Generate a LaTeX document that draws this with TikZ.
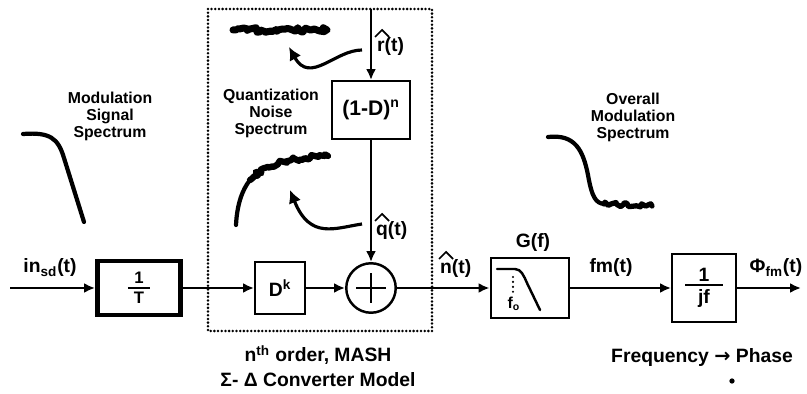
\documentclass[tikz,border=0pt]{standalone}
\usepackage{fontspec}
\setmainfont{Liberation Sans}
\newfontfamily\arrowfont{DejaVu Sans}
\usetikzlibrary{positioning,arrows.meta,decorations.pathmorphing,calc}
\tikzset{
  blockbox/.style={draw, line width=1.4pt, fill=white, inner sep=1pt,
    font=\fontsize{11}{13}\selectfont\bfseries},
  sigarrow/.style={-{Latex[length=2.2mm,width=2mm]}, line width=1.4pt},
  siglabel/.style={font=\fontsize{11}{13}\selectfont\bfseries, inner sep=1pt},
  hatline/.style={line width=1pt, line join=miter},
  speclabel/.style={font=\fontsize{9}{9.7}\selectfont\bfseries, align=center, inner sep=0pt},
  speccurve/.style={line width=2.4pt, line cap=round, line join=round},
  specnoise/.style={speccurve, decorate, decoration={random steps, segment length=1.5pt, amplitude=1.3pt}},
  curlarrow/.style={-{Latex[length=2.6mm,width=2.6mm]}, line width=1.8pt},
}
\newcommand{\blockfrac}[3]{\vbox{\hbox to #3{\hfil#1\hfil}\kern1.5pt\hrule height 1.1pt\kern2pt\hbox to #3{\hfil#2\hfil}}}

\begin{document}
\begin{tikzpicture}[x=0.02cm, y=-0.02cm]
  \useasboundingbox (0,0) rectangle (807,394);
  % dotted frame of the converter model
  \draw[line width=1.6pt, dash pattern=on 0pt off 2.1pt, line cap=round] (208,9) rectangle (432,331);
  % blocks
  \node[blockbox, line width=2.8pt, minimum width=1.66cm, minimum height=1.08cm,
    font=\fontsize{9.5}{11}\selectfont\bfseries] (invT) at (139,288) {\blockfrac{1}{T}{0.45cm}};
  \node[blockbox, minimum width=0.99cm, minimum height=1.05cm] (delay) at (280,288) {D\textsuperscript{k}};
  \node[blockbox, circle, minimum size=0.99cm] (sum) at (371,288) {};
  \node[blockbox, minimum width=1.57cm, minimum height=1.15cm, font=\fontsize{12}{14}\selectfont\bfseries] (shaper) at (371,110) {(1-D)\textsuperscript{n}};
  \node[blockbox, minimum width=1.57cm, minimum height=1.21cm] (filter) at (530,288) {};
  \node[blockbox, minimum width=1.27cm, minimum height=1.35cm] (integ) at (704,288) {\blockfrac{1}{jf}{0.76cm}};
  \draw[line width=1.4pt] ([xshift=-0.3cm]sum.center) -- ([xshift=0.3cm]sum.center)
    ([yshift=-0.3cm]sum.center) -- ([yshift=0.3cm]sum.center);
  % low-pass sketch inside G(f)
  \draw[line width=1.4pt, line cap=round] (497,269) -- (515,269) .. controls (521,269) and (524,276) .. (527,283) -- (540,310);
  \draw[line width=1.4pt, dash pattern=on 0pt off 2.8pt, line cap=round] (513,277) -- (513,293);
  \node[siglabel, font=\fontsize{9}{10}\selectfont\bfseries] (fo) at (514,304) {f\textsubscript{o}};
  % connectors
  \coordinate (insrc) at (10,288);
  \coordinate (phiout) at (801,288);
  \coordinate (rtop) at (371,9);
  \draw[sigarrow] (insrc) -- (invT.west);
  \draw[sigarrow] (invT.east) -- (delay.west);
  \draw[sigarrow] (delay.east) -- (sum.west);
  \draw[sigarrow] (sum.east) -- (filter.west);
  \draw[sigarrow] (filter.east) -- (integ.west);
  \draw[sigarrow] (integ.east) -- (phiout);
  \draw[sigarrow] (rtop) -- (shaper.north);
  \draw[sigarrow] (shaper.south) -- (sum.north);
  % signal labels
  \node[siglabel] (insd) at (50,268) {in\textsubscript{sd}(t)};
  \node[siglabel, anchor=base west] (rhat) at (375,52) {r(t)};
  \draw[hatline] ($(rhat.base west)+(0,-15)$) -- ++(7,-7) -- ++(7,7);
  \node[siglabel, anchor=base west] (qhat) at (374,236) {q(t)};
  \draw[hatline] ($(qhat.base west)+(1,-15)$) -- ++(7,-7) -- ++(7,7);
  \node[siglabel, anchor=base west] (nhat) at (438,274) {n(t)};
  \draw[hatline] ($(nhat.base west)+(1,-15)$) -- ++(7,-7) -- ++(7,7);
  \node[siglabel] (gf) at (533,243) {G(f)};
  \node[siglabel] (fmt) at (611,268) {fm(t)};
  \node[siglabel] (phifm) at (776,268) {Φ\textsubscript{fm}(t)};
  \node[siglabel] (freqphase) at (702,358) {Frequency {\arrowfont\bfseries →} Phase};
  \fill (732,381) circle[radius=1.5pt];
  \node[siglabel, align=center, font=\fontsize{11}{14}\selectfont\bfseries] (mash) at (318,366)
    {n\textsuperscript{th} order, MASH\\Σ- Δ Converter Model};
  % spectra
  \node[speclabel] (modlab) at (110,116) {Modulation\\Signal\\Spectrum};
  \node[speclabel] (qnlab) at (271,113) {Quantization\\Noise\\Spectrum};
  \node[speclabel] (ovlab) at (633,117) {Overall\\Modulation\\Spectrum};
  \draw[speccurve] (23,134) .. controls (50,132) and (58,138) .. (64,158) -- (84,222);
  \draw[speccurve] (236,225) .. controls (237,205) and (242,190) .. (250,180);
  \draw[specnoise, line width=3.6pt] (250,180) .. controls (265,164) and (290,158) .. (328,156);
  \draw[specnoise, line width=4pt] (233,30) -- (327,30);
  \draw[speccurve] (548,137) .. controls (575,134) and (583,150) .. (588,175) .. controls (592,198) and (596,203) .. (604,204);
  \draw[specnoise, line width=3pt] (604,204) -- (652,206);
  % arrows from the signals to their spectra
  \draw[curlarrow] (362,50) .. controls (335,50) and (310,85) .. (289,47);
  \draw[curlarrow] (362,224) .. controls (335,228) and (310,240) .. (290,190);
\end{tikzpicture}
\end{document}
